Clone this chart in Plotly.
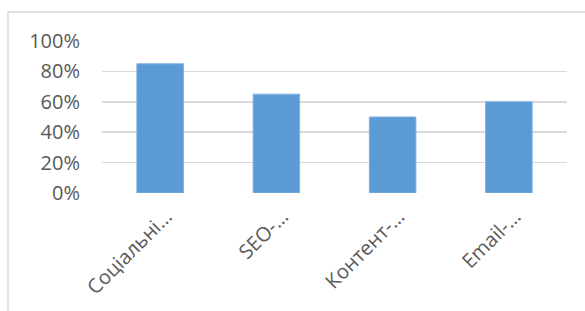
import plotly.graph_objects as go

categories = ["Соціальні…", "SEO-…", "Контент-…", "Email-…"]
values = [0.85, 0.65, 0.50, 0.60]
y_ticks = [0, 0.2, 0.4, 0.6, 0.8, 1.0]

W, H = 585, 311
ml, mr, mt, mb = 102, 18, 41, 118
pw, ph = W - ml - mr, H - mt - mb

fig = go.Figure(go.Bar(
    x=categories, y=values,
    marker=dict(color="#5b9bd5", line=dict(color="#7fb0de", width=1)),
    width=0.4,
    hoverinfo="skip",
))

font = dict(family="Open Sans, Liberation Sans, Arial", size=20, color="#595959")

fig.update_layout(
    width=W, height=H,
    margin=dict(l=ml, r=mr, t=mt, b=mb, pad=0),
    paper_bgcolor="white", plot_bgcolor="white",
    showlegend=False,
    font=font,
    xaxis=dict(
        tickangle=-45, showgrid=False, showline=False, zeroline=False,
        ticks="", tickfont=font, range=[-0.5, 3.5], automargin=False,
        ticklabelstandoff=7, ticklabelshift=6,
    ),
    yaxis=dict(
        range=[0, 1.0], tickvals=y_ticks, tickformat=".0%",
        showgrid=True, gridcolor="#d9d9d9", gridwidth=1.5,
        zeroline=False, showline=False, ticks="", tickfont=font,
        ticklabelstandoff=21, automargin=False,
    ),
    shapes=[
        dict(type="line", xref="paper", yref="paper",
             x0=(8 - ml) / pw, x1=1.2, y0=1 + (mt - 12) / ph, y1=1 + (mt - 12) / ph,
             line=dict(color="#d9d9d9", width=1.5)),
        dict(type="line", xref="paper", yref="paper",
             x0=(8 - ml) / pw, x1=(8 - ml) / pw, y0=1 + (mt - 12) / ph, y1=-1.5,
             line=dict(color="#d9d9d9", width=1.5)),
    ],
)

fig.write_html(
    "out.html",
    config={"displayModeBar": False, "staticPlot": True},
    post_script="document.body.style.margin='0';document.body.style.overflow='hidden';",
)
